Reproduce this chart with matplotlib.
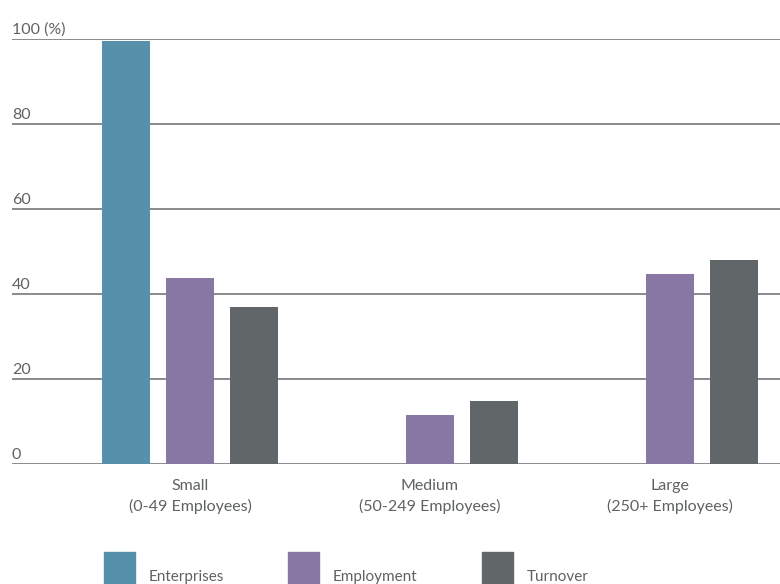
import numpy as np
import matplotlib.pyplot as plt
from matplotlib.patches import Rectangle

plt.rcParams['font.family'] = ['Lato', 'DejaVu Sans']

groups = ['Small\n(0-49 Employees)', 'Medium\n(50-249 Employees)', 'Large\n(250+ Employees)']
series = ['Enterprises', 'Employment', 'Turnover']
enterprises = [99.5, 0.0, 0.0]
employment = [43.8, 11.5, 44.7]
turnover = [36.9, 14.8, 48.0]
y_ticks = [0, 20, 40, 60, 80, 100]
y_tick_labels = ['0', '20', '40', '60', '80', '100 (%)']

colors = ['#5790aa', '#8877a2', '#616668']
grid_color = '#888b8b'
text_color = '#5f6262'

fig = plt.figure(figsize=(7.8, 5.84), dpi=100)
ax = fig.add_axes([12 / 780, 1 - 464 / 584, 1 - 12 / 780, 425 / 584])

x = np.arange(len(groups))
width = 0.2
step = 64 / 240
for i, (vals, name) in enumerate(zip([enterprises, employment, turnover], series)):
    ax.bar(x + (i - 1) * step, vals, width, color=colors[i], zorder=3, label=name)

ax.set_xlim(-178 / 240, 590 / 240)
ax.set_ylim(0, 100)

# horizontal rules with labels sitting above them at the left edge
for t, lab in zip(y_ticks, y_tick_labels):
    ax.axhline(t, color=grid_color, lw=1.4, zorder=2)
    ax.annotate(lab, (0, t), xycoords=ax.get_yaxis_transform(), xytext=(0, 1.5),
                textcoords='offset points', ha='left', va='bottom',
                fontsize=11.5, color=text_color)

ax.set_yticks([])
ax.set_xticks(x)
ax.set_xticklabels(groups, fontsize=11.5, color=text_color, linespacing=1.45)
ax.tick_params(axis='x', length=0, pad=11)
for s in ax.spines.values():
    s.set_visible(False)

# legend swatches along the bottom, clipped by the figure edge
legend_x = [104, 288, 482]
for i, name in enumerate(series):
    x0 = legend_x[i] / 780
    fig.patches.append(Rectangle((x0, 0), 31 / 780, 32 / 584, transform=fig.transFigure,
                                 color=colors[i], zorder=3))
    fig.text(x0 + 45 / 780, 1 - 577 / 584, name, ha='left', va='center',
             fontsize=11, color=text_color)

fig.savefig('out.png', dpi=100)
